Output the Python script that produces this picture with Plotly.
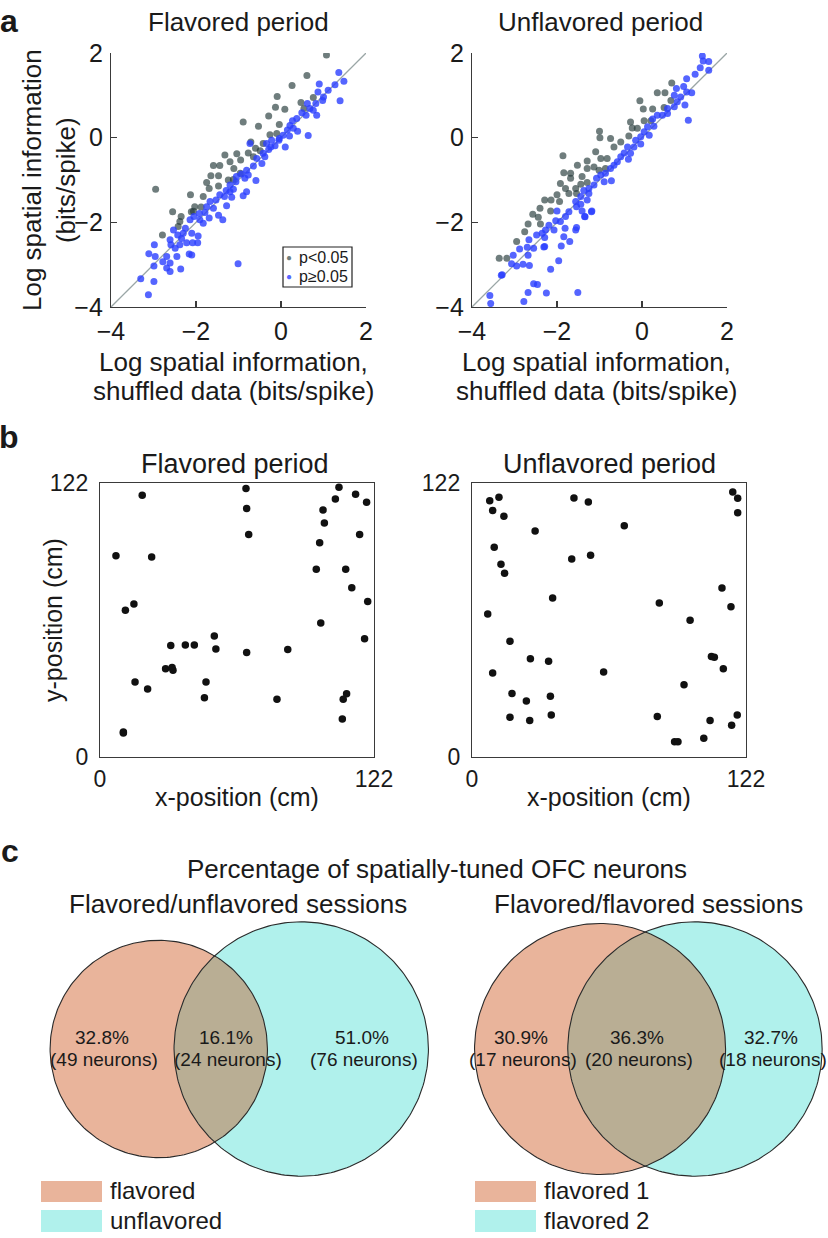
import numpy as np
import plotly.graph_objects as go

# ---------------- data ----------------
# Panel a: log spatial information (x: shuffled data, y: observed), bits/spike
flav_sig_x = [1.07, 0.61, 0.26, -0.09, -0.13, 0.09, -0.29, -0.53, -0.89, -0.04,
              -0.26, 0.47, 0.54, 0.76, -0.71, -0.60, -0.77, -1.04, -0.95, -1.20,
              -1.32, -1.59, -1.44, -1.65, -1.47, -1.11, -1.12, -1.75, -1.47, -1.69,
              -2.95, -2.13, -1.83, -2.03, -2.11, -2.06, -1.88, -2.55, -2.35, -2.38,
              -2.42, -2.79, -0.49, -0.42, -0.65, -0.96, -1.24, -0.10]
flav_sig_y = [1.95, 1.47, 1.23, 0.97, 0.72, 0.67, 0.51, 0.27, 0.37, 0.31,
              0.07, 0.83, 0.69, 0.95, -0.10, -0.25, -0.36, -0.38, -0.53, -0.57,
              -0.41, -0.66, -0.66, -0.90, -0.90, -0.73, -0.99, -1.06, -1.14, -1.20,
              -1.22, -1.35, -1.39, -1.63, -1.75, -1.74, -1.64, -1.75, -1.86, -1.98,
              -2.10, -2.30, -0.31, -0.14, -0.45, -0.84, -1.00, 0.10]
flav_ns_x = [1.36, 1.48, 1.27, 0.90, 1.11, 0.87, 1.39, 0.98, 0.82, 0.62,
             0.68, 0.84, 0.49, 0.59, 0.37, 0.27, 0.21, 0.15, 0.39, 0.05,
             0.20, 0.64, -0.04, -0.22, -0.14, 0.10, -0.29, -0.42, -0.57, -0.45,
             -0.65, -0.81, -0.93, -0.59, -0.85, -1.06, -1.20, -1.12, -0.81, -0.89,
             -1.29, -1.33, -1.44, -1.16, -1.53, -1.67, -1.28, -1.59, -1.79, -1.92,
             -1.47, -1.37, -1.69, -1.83, -2.05, -2.14, -2.25, -2.53, -2.43, -2.34,
             -2.10, -1.95, -2.61, -2.38, -2.59, -2.22, -2.08, -1.96, -2.49, -2.98,
             -3.11, -2.96, -2.69, -2.45, -2.16, -2.10, -2.78, -2.61, -2.99, -2.69,
             -2.36, -2.61, -3.30, -2.99, -3.12, -1.01, -0.73, -0.34, 0.29, -0.05,
             -0.24, -0.38, -0.77, -1.05, -1.20, -1.75, -1.91, -2.30, 0.76, 1.00]
flav_ns_y = [1.54, 1.33, 1.25, 1.27, 1.12, 1.08, 0.87, 0.88, 0.81, 0.81,
             0.69, 0.53, 0.59, 0.53, 0.45, 0.40, 0.29, 0.18, 0.15, 0.06,
             0.04, 0.05, -0.02, -0.06, -0.19, -0.22, -0.28, -0.37, -0.49, -0.61,
             -0.67, -0.77, -0.86, -1.01, -0.96, -1.04, -1.12, -1.22, -1.28, -1.37,
             -1.25, -1.39, -1.35, -1.41, -1.47, -1.51, -1.61, -1.67, -1.77, -1.79,
             -1.83, -1.94, -1.90, -2.02, -1.86, -1.94, -2.14, -2.18, -2.30, -2.38,
             -2.26, -2.32, -2.41, -2.53, -2.53, -2.48, -2.48, -2.48, -2.61, -2.53,
             -2.74, -2.81, -2.81, -2.81, -2.75, -2.77, -2.93, -2.96, -3.03, -3.08,
             -3.10, -3.16, -3.33, -3.40, -3.71, -2.98, -0.14, -0.14, 0.22, -0.06,
             -0.22, -0.45, -0.88, -0.92, -1.28, -1.63, -1.94, -2.26, 0.65, 0.96]
unflav_sig_x = [0.70, 0.36, 0.54, 0.68, 0.52, -0.05, 0.03, 0.25, 0.05, 0.21,
                -0.27, -0.23, -0.11, -1.00, -0.99, -0.74, -0.50, -0.31, -0.66, -1.86,
                -1.68, -1.52, -1.29, -1.09, -0.97, -0.82, -1.13, -1.01, -0.86, -1.84,
                -1.68, -1.41, -1.29, -1.44, -1.56, -1.54, -1.92, -1.80, -1.72, -2.00,
                -2.14, -2.29, -1.94, -2.15, -2.40, -2.57, -2.44, -2.39, -2.68, -2.76,
                -2.95, -3.18, -3.36, -1.29]
unflav_sig_y = [1.29, 1.06, 1.06, 0.88, 0.71, 0.87, 0.68, 0.68, 0.40, 0.40,
                0.37, 0.23, 0.22, 0.15, 0.00, -0.02, -0.10, 0.04, -0.22, -0.43,
                -0.84, -0.65, -0.55, -0.33, -0.49, -0.49, -0.69, -0.77, -0.73, -0.83,
                -0.96, -0.92, -1.06, -1.10, -1.20, -1.32, -1.08, -1.20, -1.32, -1.35,
                -1.47, -1.47, -1.51, -1.73, -1.67, -1.81, -1.88, -2.04, -2.04, -2.22,
                -2.45, -2.85, -2.85, -0.73]
unflav_ns_x = [1.42, 1.44, 1.57, 1.37, 1.57, 1.25, 1.05, 0.98, 0.81, 1.17,
               1.05, 0.91, 0.76, 0.83, 1.01, 0.76, 0.60, 0.48, 0.36, 0.60,
               0.25, 1.09, 0.28, 0.13, 0.05, 0.17, -0.03, -0.15, -0.03, -0.19,
               -0.34, -0.27, -0.42, -0.50, -0.32, -0.58, -0.66, -0.74, -0.86, -0.97,
               -0.72, -0.89, -1.07, -1.13, -1.25, -1.25, -1.37, -1.44, -1.56, -1.44,
               -1.41, -1.19, -1.35, -1.54, -1.72, -1.80, -2.00, -1.92, -2.03, -2.19,
               -2.07, -2.27, -2.35, -2.48, -2.29, -1.81, -1.54, -1.56, -1.84, -1.70,
               -1.90, -2.66, -2.70, -2.55, -2.29, -2.88, -3.03, -2.68, -3.07, -2.95,
               -2.80, -2.65, -1.96, -2.15, -3.31, -2.55, -2.46, -2.68, -2.25, -1.51,
               -3.58, -2.78, -3.56, -1.29, -1.34, -1.18, -2.31, -3.29]
unflav_ns_y = [1.93, 1.81, 1.80, 1.65, 1.59, 1.50, 1.39, 1.21, 1.16, 1.06,
               1.08, 0.96, 1.00, 0.85, 0.77, 0.73, 0.69, 0.53, 0.53, 0.57,
               0.44, 0.41, 0.27, 0.26, 0.14, 0.06, 0.02, -0.06, -0.15, -0.22,
               -0.22, -0.37, -0.36, -0.45, -0.51, -0.57, -0.65, -0.73, -0.84, -0.88,
               -1.02, -1.04, -0.96, -1.12, -1.20, -1.32, -1.25, -1.39, -1.51, -1.57,
               -1.73, -1.75, -1.86, -1.63, -1.75, -1.86, -1.73, -1.98, -1.96, -2.07,
               -2.18, -2.18, -2.26, -2.30, -2.36, -2.14, -2.12, -2.18, -2.34, -2.45,
               -2.56, -2.41, -2.59, -2.61, -2.57, -2.63, -2.78, -2.78, -2.98, -3.03,
               -2.99, -3.02, -2.91, -3.11, -3.25, -3.45, -3.47, -3.66, -3.67, -3.66,
               -3.73, -3.87, -3.92, -1.47, -1.87, -1.73, -2.58, -3.24]
log_ticks = [-4, -2, 0, 2]

# Panel b: place-field centre positions (cm)
flav_pos_x = [7.1, 18.8, 23.0, 11.3, 15.1, 15.6, 21.2, 10.4, 10.4, 31.5,
              38.0, 42.0, 50.9, 51.6, 29.2, 32.5, 32.1, 47.2, 46.5, 65.0,
              65.3, 66.2, 65.3, 83.6, 78.8, 106.4, 104.8, 113.8, 118.7, 99.3,
              99.9, 115.6, 97.8, 96.3, 109.4, 112.1, 119.2, 98.3, 117.8, 109.8,
              108.3, 107.9]
flav_pos_y = [89.6, 116.5, 89.0, 65.3, 68.1, 33.4, 30.3, 11.1, 10.7, 49.7,
              49.9, 49.9, 53.9, 48.1, 39.3, 38.6, 39.8, 33.4, 26.4, 119.5,
              110.6, 99.1, 46.5, 47.9, 25.7, 120.1, 114.9, 117.0, 113.4, 110.0,
              104.2, 99.1, 95.4, 83.6, 83.6, 75.4, 69.2, 59.7, 52.7, 28.2,
              25.7, 16.9]
unflav_pos_x = [7.9, 12.0, 9.2, 14.2, 28.1, 9.9, 12.9, 14.5, 7.0, 35.9,
                45.4, 51.8, 44.4, 52.8, 67.8, 16.9, 26.0, 34.1, 9.2, 58.6,
                17.8, 24.2, 34.9, 16.9, 25.7, 35.3, 83.4, 97.1, 111.3, 115.3,
                116.1, 118.3, 118.3, 106.6, 107.9, 111.9, 94.4, 82.5, 106.0, 118.1,
                115.6, 103.2, 90.2, 91.7]
unflav_pos_y = [114.1, 115.6, 109.8, 107.2, 100.6, 93.4, 85.8, 81.8, 63.7, 70.8,
                115.3, 113.5, 88.2, 89.8, 103.0, 51.5, 43.8, 42.6, 37.4, 37.8,
                28.3, 24.9, 27.0, 17.7, 16.3, 18.7, 68.6, 60.9, 75.2, 66.9,
                118.0, 115.2, 108.8, 44.7, 44.4, 39.3, 32.2, 18.0, 16.3, 18.7,
                14.1, 8.3, 6.8, 6.8]
arena_ticks = [0, 122]

# Panel c: neuron counts (first only, both, second only) and printed percentages
fu_counts = [49, 24, 76]
fu_pct = ["32.8%", "16.1%", "51.0%"]
fu_names = ["flavored", "unflavored"]
ff_counts = [17, 20, 18]
ff_pct = ["30.9%", "36.3%", "32.7%"]
ff_names = ["flavored 1", "flavored 2"]

# ---------------- helpers ----------------
W, H = 828, 1238
FONT = "Liberation Sans, Arial, Helvetica, sans-serif"
TXT = "#1a1a1a"
AXC = "#3a3a3a"
GRAY = "rgba(36,58,58,0.66)"
BLUE = "rgba(42,62,255,0.80)"
ORANGE = "#e9b49b"
CYAN = "#b0f1ec"
OVER = "#b9ae94"


def px(x):
    return x / W


def py(y):
    return 1 - y / H


fig = go.Figure()
annotations = []
shapes = []


def ann(text, x, y, size, xanchor="center", yanchor="middle", angle=0, bold=False, color=TXT):
    annotations.append(dict(
        text=f"<b>{text}</b>" if bold else text, x=px(x), y=py(y), xref="paper", yref="paper",
        xanchor=xanchor, yanchor=yanchor, showarrow=False, textangle=angle,
        font=dict(family=FONT, size=size, color=color)))


# ---------------- panel a ----------------
diag = [log_ticks[0], log_ticks[-1]]
for xa, ya, sx, sy, nx, ny in [("x", "y", flav_sig_x, flav_sig_y, flav_ns_x, flav_ns_y),
                               ("x2", "y2", unflav_sig_x, unflav_sig_y, unflav_ns_x, unflav_ns_y)]:
    fig.add_trace(go.Scatter(x=diag, y=diag, mode="lines", xaxis=xa, yaxis=ya,
                             line=dict(color="#9aa6a6", width=1.3), hoverinfo="skip"))
    fig.add_trace(go.Scatter(x=sx, y=sy, mode="markers", xaxis=xa, yaxis=ya, name="p<0.05",
                             marker=dict(size=7, color=GRAY, line=dict(width=0))))
    fig.add_trace(go.Scatter(x=nx, y=ny, mode="markers", xaxis=xa, yaxis=ya, name="p≥0.05",
                             marker=dict(size=7, color=BLUE, line=dict(width=0))))


def axis_a(domain, anchor):
    return dict(domain=domain, anchor=anchor, range=[log_ticks[0], log_ticks[-1]],
                showline=True, linecolor=AXC, linewidth=1.2, ticks="inside", ticklen=6,
                tickcolor=AXC, tickwidth=1.2, tickvals=log_ticks, ticklabelstandoff=2,
                tickfont=dict(family=FONT, size=25, color=TXT), automargin=False,
                showgrid=False, zeroline=False, fixedrange=True)


ya_dom = [py(307), py(53)]
fig.update_layout(
    xaxis=axis_a([px(111), px(366)], "y"), yaxis=axis_a(ya_dom, "x"),
    xaxis2=axis_a([px(472), px(727)], "y2"), yaxis2=axis_a(ya_dom, "x2"),
)

ann("a", 9, 21, 32, bold=True)
ann("Flavored period", 238, 22, 26)
ann("Unflavored period", 600, 22, 26)
for cx in (238, 600):
    ann("Log spatial information,", cx - 4, 362, 26)
    ann("shuffled data (bits/spike)", cx - 4, 391, 26)
ann("Log spatial information<br>(bits/spike)", 49, 180, 26, angle=-90)

# legend box in left panel
shapes.append(dict(type="rect", xref="paper", yref="paper", x0=px(283), x1=px(352), y0=py(287), y1=py(247),
                   line=dict(color="#222", width=1.2), fillcolor="white"))
ann("●", 289, 257, 10, color=GRAY)
ann("●", 289, 277, 10, color=BLUE)
ann("p<0.05", 297, 257, 16, xanchor="left")
ann("p≥0.05", 297, 277, 16, xanchor="left")

# ---------------- panel b ----------------
for xa, ya, bx, by in [("x3", "y3", flav_pos_x, flav_pos_y), ("x4", "y4", unflav_pos_x, unflav_pos_y)]:
    fig.add_trace(go.Scatter(x=bx, y=by, mode="markers", xaxis=xa, yaxis=ya,
                             marker=dict(size=7.5, color="#111111", line=dict(width=0))))


def axis_b(domain, anchor, standoff):
    return dict(domain=domain, anchor=anchor, range=[arena_ticks[0], arena_ticks[-1]],
                showline=True, mirror=True, linecolor=AXC, linewidth=1.2, ticks="",
                tickvals=arena_ticks, ticklabelstandoff=standoff, automargin=False,
                tickfont=dict(family=FONT, size=23, color=TXT),
                showgrid=False, zeroline=False, fixedrange=True)


yb_dom = [py(757), py(483)]
fig.update_layout(
    xaxis3=axis_b([px(100), px(374)], "y3", 1), yaxis3=axis_b(yb_dom, "x3", 6),
    xaxis4=axis_b([px(472), px(746)], "y4", 1), yaxis4=axis_b(yb_dom, "x4", 6),
)
ann("b", 9, 437, 32, bold=True)
ann("Flavored period", 235, 464, 27)
ann("Unflavored period", 609, 464, 27)
ann("x-position (cm)", 237, 797, 25)
ann("x-position (cm)", 609, 797, 25)
ann("y-position (cm)", 53, 620, 25, angle=-90)

# ---------------- panel c ----------------
def lens_area(r1, r2, d):
    if d >= r1 + r2:
        return 0.0
    if d <= abs(r1 - r2):
        return np.pi * min(r1, r2) ** 2
    a1 = r1 ** 2 * np.arccos((d * d + r1 * r1 - r2 * r2) / (2 * d * r1))
    a2 = r2 ** 2 * np.arccos((d * d + r2 * r2 - r1 * r1) / (2 * d * r2))
    k = 0.5 * np.sqrt((-d + r1 + r2) * (d + r1 - r2) * (d - r1 + r2) * (d + r1 + r2))
    return a1 + a2 - k


def venn_geometry(counts):
    n1 = counts[0] + counts[1]
    n2 = counts[1] + counts[2]
    big = max(n1, n2)
    r1, r2 = np.sqrt(n1 / big), np.sqrt(n2 / big)   # larger circle radius = 1
    target = np.pi * counts[1] / big
    lo, hi = abs(r1 - r2) + 1e-9, r1 + r2
    for _ in range(200):
        mid = 0.5 * (lo + hi)
        if lens_area(r1, r2, mid) > target:
            lo = mid
        else:
            hi = mid
    d = 0.5 * (lo + hi)
    return r1, r2, d


t = np.linspace(0, 2 * np.pi, 241)
S = 127.2  # pixels per unit radius
CY = 1049
venn_specs = [("x5", "y5", fu_counts, 230.0, (0, 450)),
              ("x6", "y6", ff_counts, 647.5, (430, 828))]
for idx, (xa, ya, counts, mid_px, (dx0, dx1)) in enumerate(venn_specs):
    r1, r2, d = venn_geometry(counts)
    c1, c2 = -d / 2, d / 2
    fig.add_trace(go.Scatter(x=c1 + r1 * np.cos(t), y=r1 * np.sin(t), mode="lines", fill="toself",
                             fillcolor=ORANGE, line=dict(width=0), xaxis=xa, yaxis=ya, hoverinfo="skip"))
    fig.add_trace(go.Scatter(x=c2 + r2 * np.cos(t), y=r2 * np.sin(t), mode="lines", fill="toself",
                             fillcolor=CYAN, line=dict(width=0), xaxis=xa, yaxis=ya, hoverinfo="skip"))
    a = (d * d + r1 * r1 - r2 * r2) / (2 * d)
    h = np.sqrt(max(r1 * r1 - a * a, 0))
    th1 = np.arctan2(h, a)
    th2 = np.arctan2(h, d - a)
    t1 = np.linspace(-th1, th1, 120)
    t2 = np.linspace(np.pi - th2, np.pi + th2, 120)
    lx = np.concatenate([c1 + r1 * np.cos(t1), c2 + r2 * np.cos(t2)])
    ly = np.concatenate([r1 * np.sin(t1), r2 * np.sin(t2)])
    fig.add_trace(go.Scatter(x=lx, y=ly, mode="lines", fill="toself", fillcolor=OVER,
                             line=dict(width=0), xaxis=xa, yaxis=ya, hoverinfo="skip"))
    for c, r in ((c1, r1), (c2, r2)):
        fig.add_trace(go.Scatter(x=c + r * np.cos(t), y=r * np.sin(t), mode="lines",
                                 line=dict(color="#2a2a2a", width=1.1), xaxis=xa, yaxis=ya, hoverinfo="skip"))
    ydom = (905, 1185)
    fig.layout[f"xaxis{5 + idx}"] = dict(domain=[px(dx0), px(dx1)], anchor=ya, visible=False, fixedrange=True,
                                         range=[(dx0 - mid_px) / S, (dx1 - mid_px) / S])
    fig.layout[f"yaxis{5 + idx}"] = dict(domain=[py(ydom[1]), py(ydom[0])], anchor=xa, visible=False,
                                         fixedrange=True,
                                         range=[-(ydom[1] - CY) / S, (CY - ydom[0]) / S])

# Venn labels
fu_lab_x = [102, 226, 362]
ff_lab_x = [521, 637, 771]
for labx, counts, pcts in ((fu_lab_x, fu_counts, fu_pct), (ff_lab_x, ff_counts, ff_pct)):
    for lx_, n, p in zip(labx, counts, pcts):
        ann(p, lx_, 1037, 19)
        ann(f"({n} neurons)", lx_ + 2, 1059, 19)

ann("c", 10, 851, 32, bold=True)
ann("Percentage of spatially-tuned OFC neurons", 437, 869, 26)
ann("Flavored/unflavored sessions", 238, 904, 26)
ann("Flavored/flavored sessions", 648, 904, 26)

# Venn legends
for x0, names in ((41, fu_names), (475, ff_names)):
    for (yy0, yy1), col, nm in zip(((1181, 1202), (1210, 1232)), (ORANGE, CYAN), names):
        shapes.append(dict(type="rect", xref="paper", yref="paper", x0=px(x0), x1=px(x0 + 61),
                           y0=py(yy1), y1=py(yy0), line=dict(width=0), fillcolor=col))
        ann(nm, x0 + 67, (yy0 + yy1) / 2 - 1, 24, xanchor="left")

for tr in fig.data:
    tr.showlegend = False

fig.update_layout(
    width=W, height=H, margin=dict(l=0, r=0, t=0, b=0, pad=0, autoexpand=False),
    paper_bgcolor="white", plot_bgcolor="white",
    annotations=annotations, shapes=shapes, showlegend=False,
    font=dict(family=FONT, color=TXT),
)
fig.write_html("out.html", config={"displayModeBar": False, "staticPlot": True},
               post_script="document.body.style.margin='0px';document.body.style.padding='0px';"
                           "document.body.style.overflow='hidden';")
